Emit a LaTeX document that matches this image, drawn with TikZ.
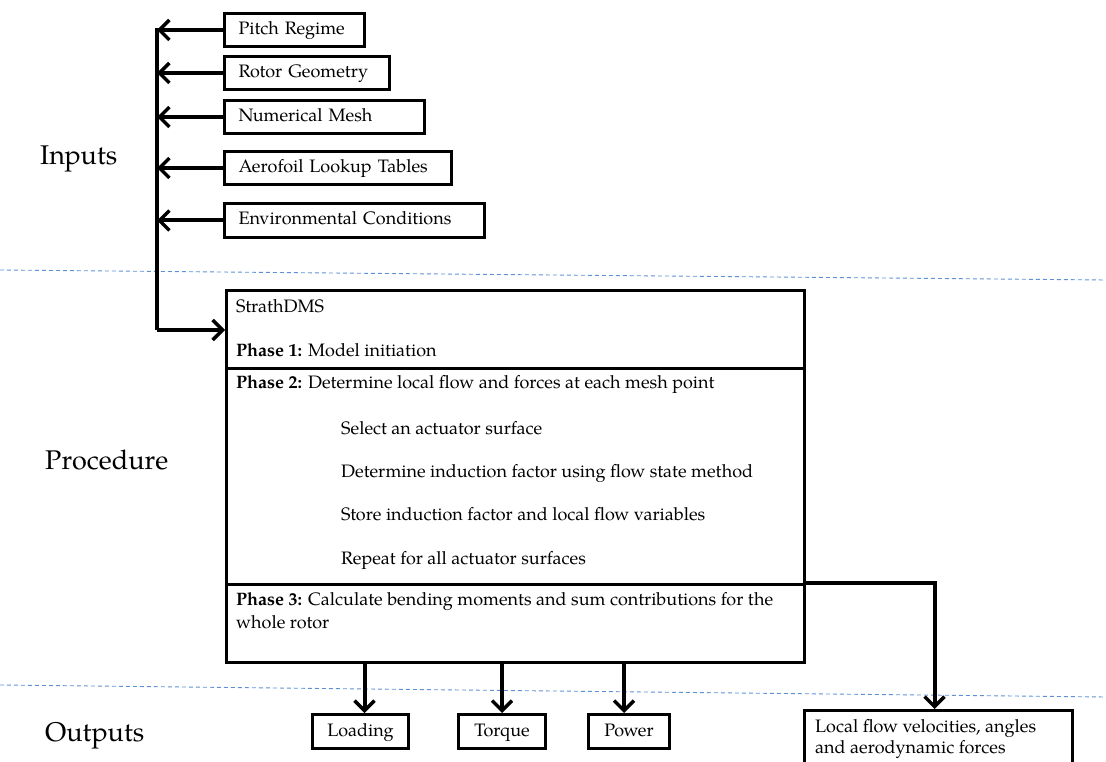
\documentclass[tikz,border=0pt]{standalone}
\usepackage{fontspec}
\setmainfont{TeX Gyre Pagella}
\usetikzlibrary{arrows.meta}
\definecolor{sepblue}{RGB}{95,145,215}
\begin{document}
\begin{tikzpicture}[x=1pt,y=-1pt,
  inbox/.style={draw,line width=3pt,anchor=north west,inner xsep=14pt,inner ysep=0pt,align=left,text height=12.5pt,text depth=3.5pt,font=\fontsize{18}{21}\selectfont},
  phasebox/.style={draw,line width=3pt,anchor=north west,inner sep=0pt},
  outbox/.style={draw,line width=3pt,anchor=north west,inner sep=0pt,align=center,text height=12.5pt,text depth=3.5pt,font=\fontsize{18}{21}\selectfont},
  txt/.style={anchor=base west,inner sep=0pt,font=\fontsize{18}{21}\selectfont},
  lbl/.style={anchor=base west,inner sep=0pt,font=\fontsize{27}{31}\selectfont},
  arr/.style={line width=4pt,-{Straight Barb[length=10pt,width=20pt,line width=3.5pt]}},
  sepline/.style={draw=sepblue,line width=0.9pt,dash pattern=on 4pt off 3pt}
]
\useasboundingbox (0,0) rectangle (1106,762);

% separators
\draw[sepline] (0,270) -- (1106,280);
\draw[sepline] (0,685) -- (1106,697);

% section labels
\node[lbl] (linputs) at (40,165) {Inputs};
\node[lbl] (lproc) at (45,469) {Procedure};
\node[lbl] (lout) at (45,741) {Outputs};

% input boxes
\node[inbox,minimum width=140pt,minimum height=33pt,text width=112pt] (pr) at (223,12) {Pitch Regime};
\node[inbox,minimum width=165pt,minimum height=33pt,text width=137pt] (rg) at (223,55) {Rotor Geometry};
\node[inbox,minimum width=200pt,minimum height=33pt,text width=172pt] (nm) at (223,99) {Numerical Mesh};
\node[inbox,minimum width=227pt,minimum height=33pt,text width=199pt] (al) at (223,150) {Aerofoil Lookup Tables};
\node[inbox,minimum width=260pt,minimum height=34pt,text width=232pt] (ec) at (223,202) {Environmental Conditions};

% main procedure box
\node[phasebox,minimum width=578pt,minimum height=78pt] (p1) at (225,289) {};
\node[phasebox,minimum width=578pt,minimum height=216pt] (p2) at (225,367) {};
\node[phasebox,minimum width=578pt,minimum height=78pt] (p3) at (225,583) {};

\node[txt] (t0) at (236,312) {StrathDMS};
\node[txt] (t1) at (236,356) {\textbf{Phase 1:} Model initiation};
\node[txt] (t2) at (236,388) {\textbf{Phase 2:} Determine local flow and forces at each mesh point};
\node[txt] (s1) at (341,434) {Select an actuator surface};
\node[txt] (s2) at (341,477) {Determine induction factor using flow state method};
\node[txt] (s3) at (341,520) {Store induction factor and local flow variables};
\node[txt] (s4) at (341,564) {Repeat for all actuator surfaces};
\node[txt] (t3) at (236,605) {\textbf{Phase 3:} Calculate bending moments and sum contributions for the};
\node[txt] (t3b) at (236,628) {whole rotor};

% spine
\coordinate (top) at (157,28);
\coordinate (corner) at (157,330);
\draw[line width=4pt] (top) -- (corner);
\draw[arr] (corner) -- (corner -| p1.west);
\foreach \b in {pr,rg,nm,al,ec}
  \draw[arr] (\b.west) -- (\b.west -| top);

% outputs
\node[outbox,minimum width=96pt,minimum height=34pt] (load) at (311,713) {Loading};
\node[outbox,minimum width=87pt,minimum height=34pt] (torq) at (457,713) {Torque};
\node[outbox,minimum width=81pt,minimum height=34pt] (pow) at (587,713) {Power};
\node[phasebox,minimum width=268pt,minimum height=70pt] (lf) at (803,709) {};
\node[txt] (lf1) at (815,732) {Local flow velocities, angles};
\node[txt] (lf2) at (815,753) {and aerodynamic forces};

\draw[arr] (p3.south -| load.north) ++(4,0) -- ([xshift=4pt]load.north);
\draw[arr] (p3.south -| torq.north) -- (torq.north);
\draw[arr] (p3.south -| pow.north) ++(-5,0) -- ([xshift=-5pt]pow.north);
\draw[arr] (p3.north east) -| ([xshift=-4pt]lf.north);
\end{tikzpicture}
\end{document}
